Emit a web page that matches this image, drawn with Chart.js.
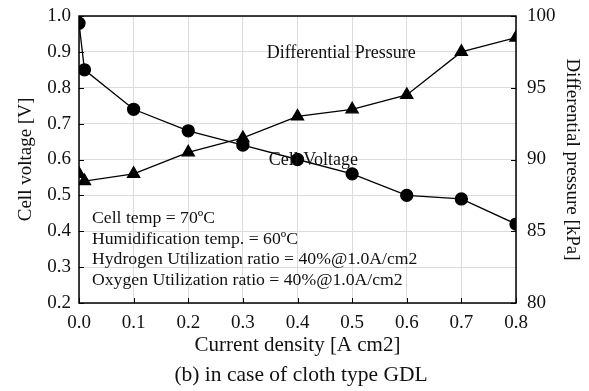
<!DOCTYPE html>
<html>
<head>
<meta charset="utf-8">
<script src="https://cdn.jsdelivr.net/npm/chart.js@4/dist/chart.umd.min.js"></script>
<style>
html,body{margin:0;padding:0;background:#fff;}
#wrap{width:589px;height:391px;position:relative;}
</style>
</head>
<body>
<div id="wrap"><canvas id="c" width="589" height="391"></canvas></div>
<script>
// Data
const currentDensity = [0.0, 0.01, 0.1, 0.2, 0.3, 0.4, 0.5, 0.6, 0.7, 0.8];
const cellVoltage    = [0.98, 0.85, 0.74, 0.68, 0.64, 0.60, 0.56, 0.50, 0.49, 0.42];
const pressureX      = [0.0, 0.01, 0.1, 0.2, 0.3, 0.4, 0.5, 0.6, 0.7, 0.8];
const diffPressure   = [89.0, 88.5, 89.0, 90.5, 91.5, 93.0, 93.5, 94.5, 97.5, 98.5];

const xTickLabels = ['0.0','0.1','0.2','0.3','0.4','0.5','0.6','0.7','0.8'];
const annotationLines = [
  'Cell temp = 70ºC',
  'Humidification temp. = 60ºC',
  'Hydrogen Utilization ratio = 40%@1.0A/cm2',
  'Oxygen Utilization ratio = 40%@1.0A/cm2'
];
const seriesLabels = ['Differential Pressure', 'Cell Voltage'];

const FONT = '"Liberation Serif", "Times New Roman", serif';

const extras = {
  id: 'extras',
  afterDraw(chart) {
    const {ctx, chartArea: a, scales} = chart;
    const x = scales.x, y = scales.y, y2 = scales.y2;
    ctx.save();
    // inward ticks
    ctx.strokeStyle = '#000';
    ctx.lineWidth = 1;
    ctx.beginPath();
    for (let v = 0; v <= 0.8001; v += 0.1) {
      const px = Math.round(x.getPixelForValue(v)) + 0.5;
      ctx.moveTo(px, a.bottom); ctx.lineTo(px, a.bottom - 5);
    }
    for (let v = 0.2; v <= 1.0001; v += 0.1) {
      const py = Math.round(y.getPixelForValue(v)) + 0.5;
      ctx.moveTo(a.left, py); ctx.lineTo(a.left + 5, py);
    }
    for (let v = 80; v <= 100; v += 5) {
      const py = Math.round(y2.getPixelForValue(v)) + 0.5;
      ctx.moveTo(a.right, py); ctx.lineTo(a.right - 5, py);
    }
    ctx.stroke();
    // border
    ctx.lineWidth = 1.5;
    ctx.strokeRect(a.left, a.top, a.right - a.left, a.bottom - a.top);
    // series labels
    ctx.fillStyle = '#111';
    ctx.font = '18px ' + FONT;
    ctx.textAlign = 'center';
    ctx.textBaseline = 'middle';
    ctx.fillText(seriesLabels[0], x.getPixelForValue(0.48), y.getPixelForValue(0.895));
    ctx.fillText(seriesLabels[1], x.getPixelForValue(0.429), y.getPixelForValue(0.598));
    // condition annotation
    ctx.textAlign = 'left';
    ctx.font = '17.7px ' + FONT;
    const y0 = y.getPixelForValue(0.435);
    annotationLines.forEach((t, i) => ctx.fillText(t, a.left + 13, y0 + i * 20.4));
    // subtitle
    ctx.font = '21.5px ' + FONT;
    ctx.textAlign = 'center';
    ctx.fillText('(b) in case of cloth type GDL', 301, 375);
    ctx.restore();
  }
};

new Chart(document.getElementById('c'), {
  type: 'scatter',
  data: {
    datasets: [
      {
        label: 'Cell Voltage',
        data: currentDensity.map((v, i) => ({x: v, y: cellVoltage[i]})),
        yAxisID: 'y',
        showLine: true,
        borderColor: '#000',
        borderWidth: 1.3,
        backgroundColor: '#000',
        pointStyle: 'circle',
        pointRadius: 6,
        pointHoverRadius: 6,
        tension: 0
      },
      {
        label: 'Differential Pressure',
        data: pressureX.map((v, i) => ({x: v, y: diffPressure[i]})),
        yAxisID: 'y2',
        showLine: true,
        borderColor: '#000',
        borderWidth: 1.3,
        backgroundColor: '#000',
        pointStyle: 'triangle',
        pointRadius: 7,
        pointHoverRadius: 7,
        tension: 0
      }
    ]
  },
  options: {
    responsive: false,
    animation: false,
    layout: {padding: {top: 16, left: 15, right: 4, bottom: 33}},
    plugins: {legend: {display: false}, tooltip: {enabled: false}, title: {display: false}},
    scales: {
      x: {
        type: 'linear', min: 0, max: 0.8,
        afterFit(s) { s.height = 55; s.paddingLeft = 0; s.paddingRight = 0; },
        afterBuildTicks(s) { s.ticks = xTickLabels.map(t => ({value: parseFloat(t)})); },
        ticks: {
          color: '#111', font: {family: FONT, size: 19}, padding: 9,
          callback: (v, i) => xTickLabels[i]
        },
        grid: {color: '#dcdcdc', drawTicks: false, lineWidth: 1},
        border: {display: false},
        title: {display: true, text: 'Current density [A cm2]', color: '#111',
                font: {family: FONT, size: 21}, padding: {top: 0, bottom: 0}}
      },
      y: {
        position: 'left', min: 0.2, max: 1.0,
        afterFit(s) { s.width = 64; s.paddingTop = 0; s.paddingBottom = 0; },
        ticks: {stepSize: 0.1, color: '#111', font: {family: FONT, size: 19}, padding: 8,
                callback: v => v.toFixed(1)},
        grid: {color: '#dcdcdc', drawTicks: false, lineWidth: 1},
        border: {display: false},
        title: {display: true, text: 'Cell voltage [V]', color: '#111',
                font: {family: FONT, size: 19}, padding: {top: 0, bottom: 0}}
      },
      y2: {
        position: 'right', min: 80, max: 100,
        afterFit(s) { s.width = 69; s.paddingTop = 0; s.paddingBottom = 0; },
        ticks: {stepSize: 5, color: '#111', font: {family: FONT, size: 19}, padding: 11},
        grid: {display: false, drawTicks: false},
        border: {display: false},
        title: {display: true, text: 'Differential pressure [kPa]', color: '#111',
                font: {family: FONT, size: 19}, padding: {top: 2, bottom: 0}}
      }
    }
  },
  plugins: [extras]
});
</script>
</body>
</html>
